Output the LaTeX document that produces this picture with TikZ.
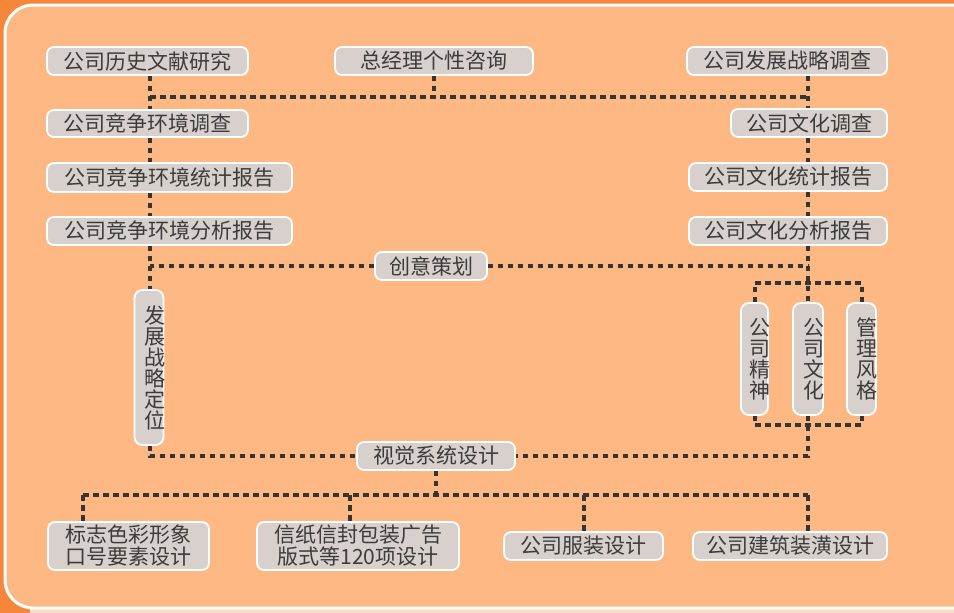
\documentclass[tikz,border=0pt]{standalone}
\usepackage{fontspec}
\newfontfamily\cjk{Noto Sans CJK SC}
\definecolor{outerc}{HTML}{F5863A}
\definecolor{panelc}{HTML}{FDB883}
\definecolor{palec}{HTML}{FCDCBE}
\definecolor{boxg}{HTML}{D7D0CD}
\definecolor{txtc}{HTML}{3C3C3C}
\definecolor{lineg}{HTML}{353535}
\tikzset{
  bx/.style={draw=white, line width=1.8pt, fill=boxg, rounded corners=7pt,
    inner sep=0pt, text=txtc, font=\cjk\fontsize{21}{22}\selectfont, align=center},
  vbx/.style={bx, text width=1em, font=\cjk\fontsize{21}{21}\selectfont, rounded corners=8pt},
  dl/.style={draw=lineg, line width=4pt, dash pattern=on 5.5pt off 4.5pt}
}
\begin{document}
\begin{tikzpicture}[x=1pt,y=-1pt]
\useasboundingbox (0,0) rectangle (954,613);
% background
\fill[outerc] (0,0) rectangle (954,613);
\fill[palec] (30,609) rectangle (954,613);
\draw[white, line width=3pt, fill=panelc, rounded corners=28pt] (5,5) rectangle (990,608);
% reference coordinates for connector columns
\coordinate (L) at (150,0);
\coordinate (R) at (808,0);
\coordinate (t1) at (150,97);
\coordinate (t2) at (808,97);
\coordinate (b1) at (808,283);
\coordinate (b2) at (808,425);
\coordinate (d1) at (83,495);
\coordinate (d2) at (350,495);
\coordinate (d4) at (808,495);
% nodes
\node[bx, minimum width=201, minimum height=28] (hist) at (147.5,61) {公司历史文献研究};
\node[bx, minimum width=198, minimum height=28] (gm) at (434,61) {总经理个性咨询};
\node[bx, minimum width=200, minimum height=28] (dev) at (787,61) {公司发展战略调查};
\node[bx, minimum width=201, minimum height=27] (comp1) at (147.5,123.5) {公司竞争环境调查};
\node[bx, minimum width=245, minimum height=29] (comp2) at (169.5,177.5) {公司竞争环境统计报告};
\node[bx, minimum width=245, minimum height=28] (comp3) at (169.5,231) {公司竞争环境分析报告};
\node[bx, minimum width=156, minimum height=28] (cs) at (809,123) {公司文化调查};
\node[bx, minimum width=198, minimum height=28] (cst) at (788,177) {公司文化统计报告};
\node[bx, minimum width=198, minimum height=28] (cana) at (788,231) {公司文化分析报告};
\node[bx, minimum width=112, minimum height=28] (idea) at (431,266) {创意策划};
\node[vbx, minimum width=29, minimum height=155] (strat) at (149,367.5) {发\\展\\战\\略\\定\\位};
\node[vbx, minimum width=27, minimum height=112] (spirit) at (754.5,359) {公\\司\\精\\神};
\node[vbx, minimum width=30, minimum height=112] (wh) at (808,359) {公\\司\\文\\化};
\node[vbx, minimum width=29, minimum height=112] (style) at (861.5,359) {管\\理\\风\\格};
\node[bx, minimum width=158, minimum height=28] (vis) at (436,456) {视觉系统设计};
\node[bx, minimum width=161, minimum height=48, font=\cjk\fontsize{21}{22}\selectfont] (logo) at (128.5,546) {标志色彩形象\\口号要素设计};
\node[bx, minimum width=202, minimum height=48, font=\cjk\fontsize{21}{22}\selectfont] (print) at (358,546) {信纸信封包装广告\\版式等120项设计};
\node[bx, minimum width=159, minimum height=28] (suit) at (583.5,546) {公司服装设计};
\node[bx, minimum width=194, minimum height=28] (arch) at (790,546) {公司建筑装潢设计};
% connectors, left column
\draw[dl] (hist.south -| L) -- (comp1.north -| L);
\draw[dl] (comp1.south -| L) -- (comp2.north -| L);
\draw[dl] (comp2.south -| L) -- (comp3.north -| L);
\draw[dl] (comp3.south -| L) -- (strat.north -| L);
% top bar
\draw[dl] (t1) -- (t2);
\draw[dl] (gm.south) -- (gm.south |- t1);
% right column
\draw[dl] (dev.south -| R) -- (cs.north -| R);
\draw[dl] (cs.south -| R) -- (cst.north -| R);
\draw[dl] (cst.south -| R) -- (cana.north -| R);
\draw[dl] (cana.south -| R) -- (wh.north);
% creative planning
\draw[dl] (idea.west) -- (idea.west -| L);
\draw[dl] (idea.east) -- (idea.east -| R);
% culture branch
\draw[dl] (spirit.north) |- (b1) -| (style.north);
\draw[dl] (spirit.south) |- (b2) -| (style.south);
\draw[dl] (wh.south) |- (vis.east);
\draw[dl] (strat.south -| L) |- (vis.west);
% bottom branch
\draw[dl] (vis.south) -- (vis.south |- d1);
\draw[dl] (d1) -- (d4);
\draw[dl] (d1) -- (d1 |- logo.north);
\draw[dl] (d2) -- (d2 |- print.north);
\draw[dl] (suit.north |- d1) -- (suit.north);
\draw[dl] (d4) -- (arch.north -| R);
\end{tikzpicture}
\end{document}
